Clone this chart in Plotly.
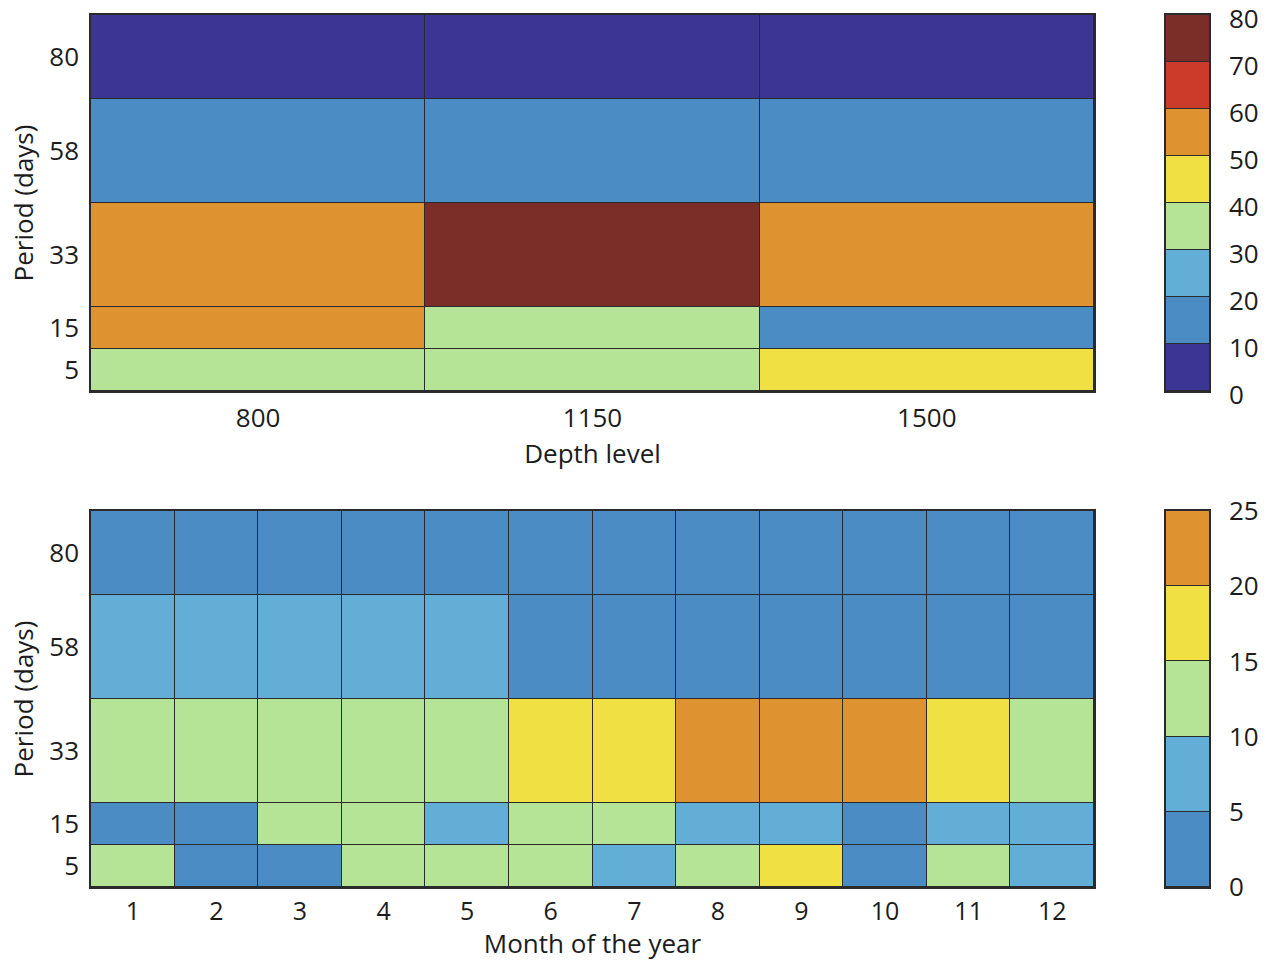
import plotly.graph_objects as go

# Period bands (days): labels, bin edges used for the rows
period_labels = ["5", "15", "33", "58", "80"]
period_edges = [0, 10, 20, 45, 70, 90]

# Top panel: amplitude per depth level (rows follow period_labels)
depth_labels = ["800", "1150", "1500"]
depth_values = [
    [35, 35, 45],   # 5 days
    [55, 35, 15],   # 15 days
    [55, 75, 55],   # 33 days
    [15, 15, 15],   # 58 days
    [5, 5, 5],      # 80 days
]
depth_levels = [0, 10, 20, 30, 40, 50, 60, 70, 80]
depth_colors = ["#3b3593", "#4a8cc3", "#63aed6", "#b5e496",
                "#f0e044", "#de9330", "#cc3a2a", "#7a2e27"]

# Bottom panel: amplitude per month
month_labels = [str(m) for m in range(1, 13)]
month_values = [
    [12, 3, 3, 12, 12, 12, 7, 12, 17, 3, 12, 7],       # 5 days
    [3, 3, 12, 12, 7, 12, 12, 7, 7, 3, 7, 7],          # 15 days
    [12, 12, 12, 12, 12, 17, 17, 22, 22, 22, 17, 12],  # 33 days
    [7, 7, 7, 7, 7, 3, 3, 3, 3, 3, 3, 3],              # 58 days
    [3] * 12,                                          # 80 days
]
month_levels = [0, 5, 10, 15, 20, 25]
month_colors = ["#4a8cc3", "#63aed6", "#b5e496", "#f0e044", "#de9330"]


def stepped_scale(colors):
    n = len(colors)
    scale = []
    for i, c in enumerate(colors):
        scale.append([i / n, c])
        scale.append([(i + 1) / n, c])
    return scale


FONT = "Open Sans"
TXT = "#1c1c1c"
LINE = "#2a2a2a"
FS = 26

fig = go.Figure()

# main heatmaps
fig.add_trace(go.Heatmap(
    z=depth_values, x=list(range(len(depth_labels) + 1)), y=period_edges,
    colorscale=stepped_scale(depth_colors), zmin=depth_levels[0], zmax=depth_levels[-1],
    showscale=False, xgap=1, ygap=1, xaxis="x", yaxis="y", hoverinfo="skip"))
fig.add_trace(go.Heatmap(
    z=month_values, x=[i + 0.5 for i in range(len(month_labels) + 1)], y=period_edges,
    colorscale=stepped_scale(month_colors), zmin=month_levels[0], zmax=month_levels[-1],
    showscale=False, xgap=1, ygap=1, xaxis="x2", yaxis="y2", hoverinfo="skip"))

# colour keys drawn as one-column heatmaps over the level edges
fig.add_trace(go.Heatmap(
    z=[[(a + b) / 2] for a, b in zip(depth_levels[:-1], depth_levels[1:])],
    x=[0, 1], y=depth_levels,
    colorscale=stepped_scale(depth_colors), zmin=depth_levels[0], zmax=depth_levels[-1],
    showscale=False, ygap=1, xaxis="x3", yaxis="y3", hoverinfo="skip"))
fig.add_trace(go.Heatmap(
    z=[[(a + b) / 2] for a, b in zip(month_levels[:-1], month_levels[1:])],
    x=[0, 1], y=month_levels,
    colorscale=stepped_scale(month_colors), zmin=month_levels[0], zmax=month_levels[-1],
    showscale=False, ygap=1, xaxis="x4", yaxis="y4", hoverinfo="skip"))

period_centers = [(a + b) / 2 for a, b in zip(period_edges[:-1], period_edges[1:])]
W, H = 1273, 961
xd = [91 / W, 1094 / W]
cbd = [1166 / W, 1209 / W]
yd_top = [1 - 391 / H, 1 - 15 / H]
yd_bot = [1 - 887 / H, 1 - 511 / H]


def axis_style(size=FS):
    return dict(showline=True, linecolor=LINE, linewidth=1.5, mirror=True,
                showgrid=False, zeroline=False, ticks="", automargin=False,
                ticklabeloverflow="allow",
                tickfont=dict(family=FONT, size=size, color=TXT))


title_font = dict(family=FONT, size=FS, color=TXT)
key_x = dict(range=[0, 1], showticklabels=False, showline=True, linecolor=LINE,
             linewidth=1.5, mirror=True, showgrid=False, zeroline=False, ticks="",
             automargin=False)

fig.update_layout(
    width=W, height=H, margin=dict(l=0, r=0, t=0, b=0, autoexpand=False),
    paper_bgcolor="white", plot_bgcolor=LINE,
    font=dict(family=FONT, size=FS, color=TXT),
    xaxis=dict(domain=xd, anchor="y", range=[0, 3],
               tickvals=[0.5, 1.5, 2.5], ticktext=depth_labels, ticklabelstandoff=3,
               title=dict(text="Depth level", font=title_font, standoff=0),
               **axis_style()),
    yaxis=dict(domain=yd_top, anchor="x", range=[0, 90],
               tickvals=period_centers, ticktext=period_labels, ticklabelstandoff=5,
               title=dict(text="Period (days)", font=title_font, standoff=8),
               **axis_style()),
    xaxis2=dict(domain=xd, anchor="y2", range=[0.5, 12.5],
                tickvals=list(range(1, 13)), ticktext=month_labels, ticklabelstandoff=1,
                title=dict(text="Month of the year", font=title_font, standoff=1),
                **axis_style(25)),
    yaxis2=dict(domain=yd_bot, anchor="x2", range=[0, 90],
                tickvals=period_centers, ticktext=period_labels, ticklabelstandoff=5,
                title=dict(text="Period (days)", font=title_font, standoff=8),
                **axis_style()),
    xaxis3=dict(domain=cbd, anchor="y3", **key_x),
    yaxis3=dict(domain=yd_top, anchor="x3", side="right", range=[0, 80],
                tickvals=depth_levels, ticklabelstandoff=13, ticklabelshift=4,
                **axis_style()),
    xaxis4=dict(domain=cbd, anchor="y4", **key_x),
    yaxis4=dict(domain=yd_bot, anchor="x4", side="right", range=[0, 25],
                tickvals=month_levels, ticklabelstandoff=13, **axis_style()),
)

fig.write_html("out.html")
